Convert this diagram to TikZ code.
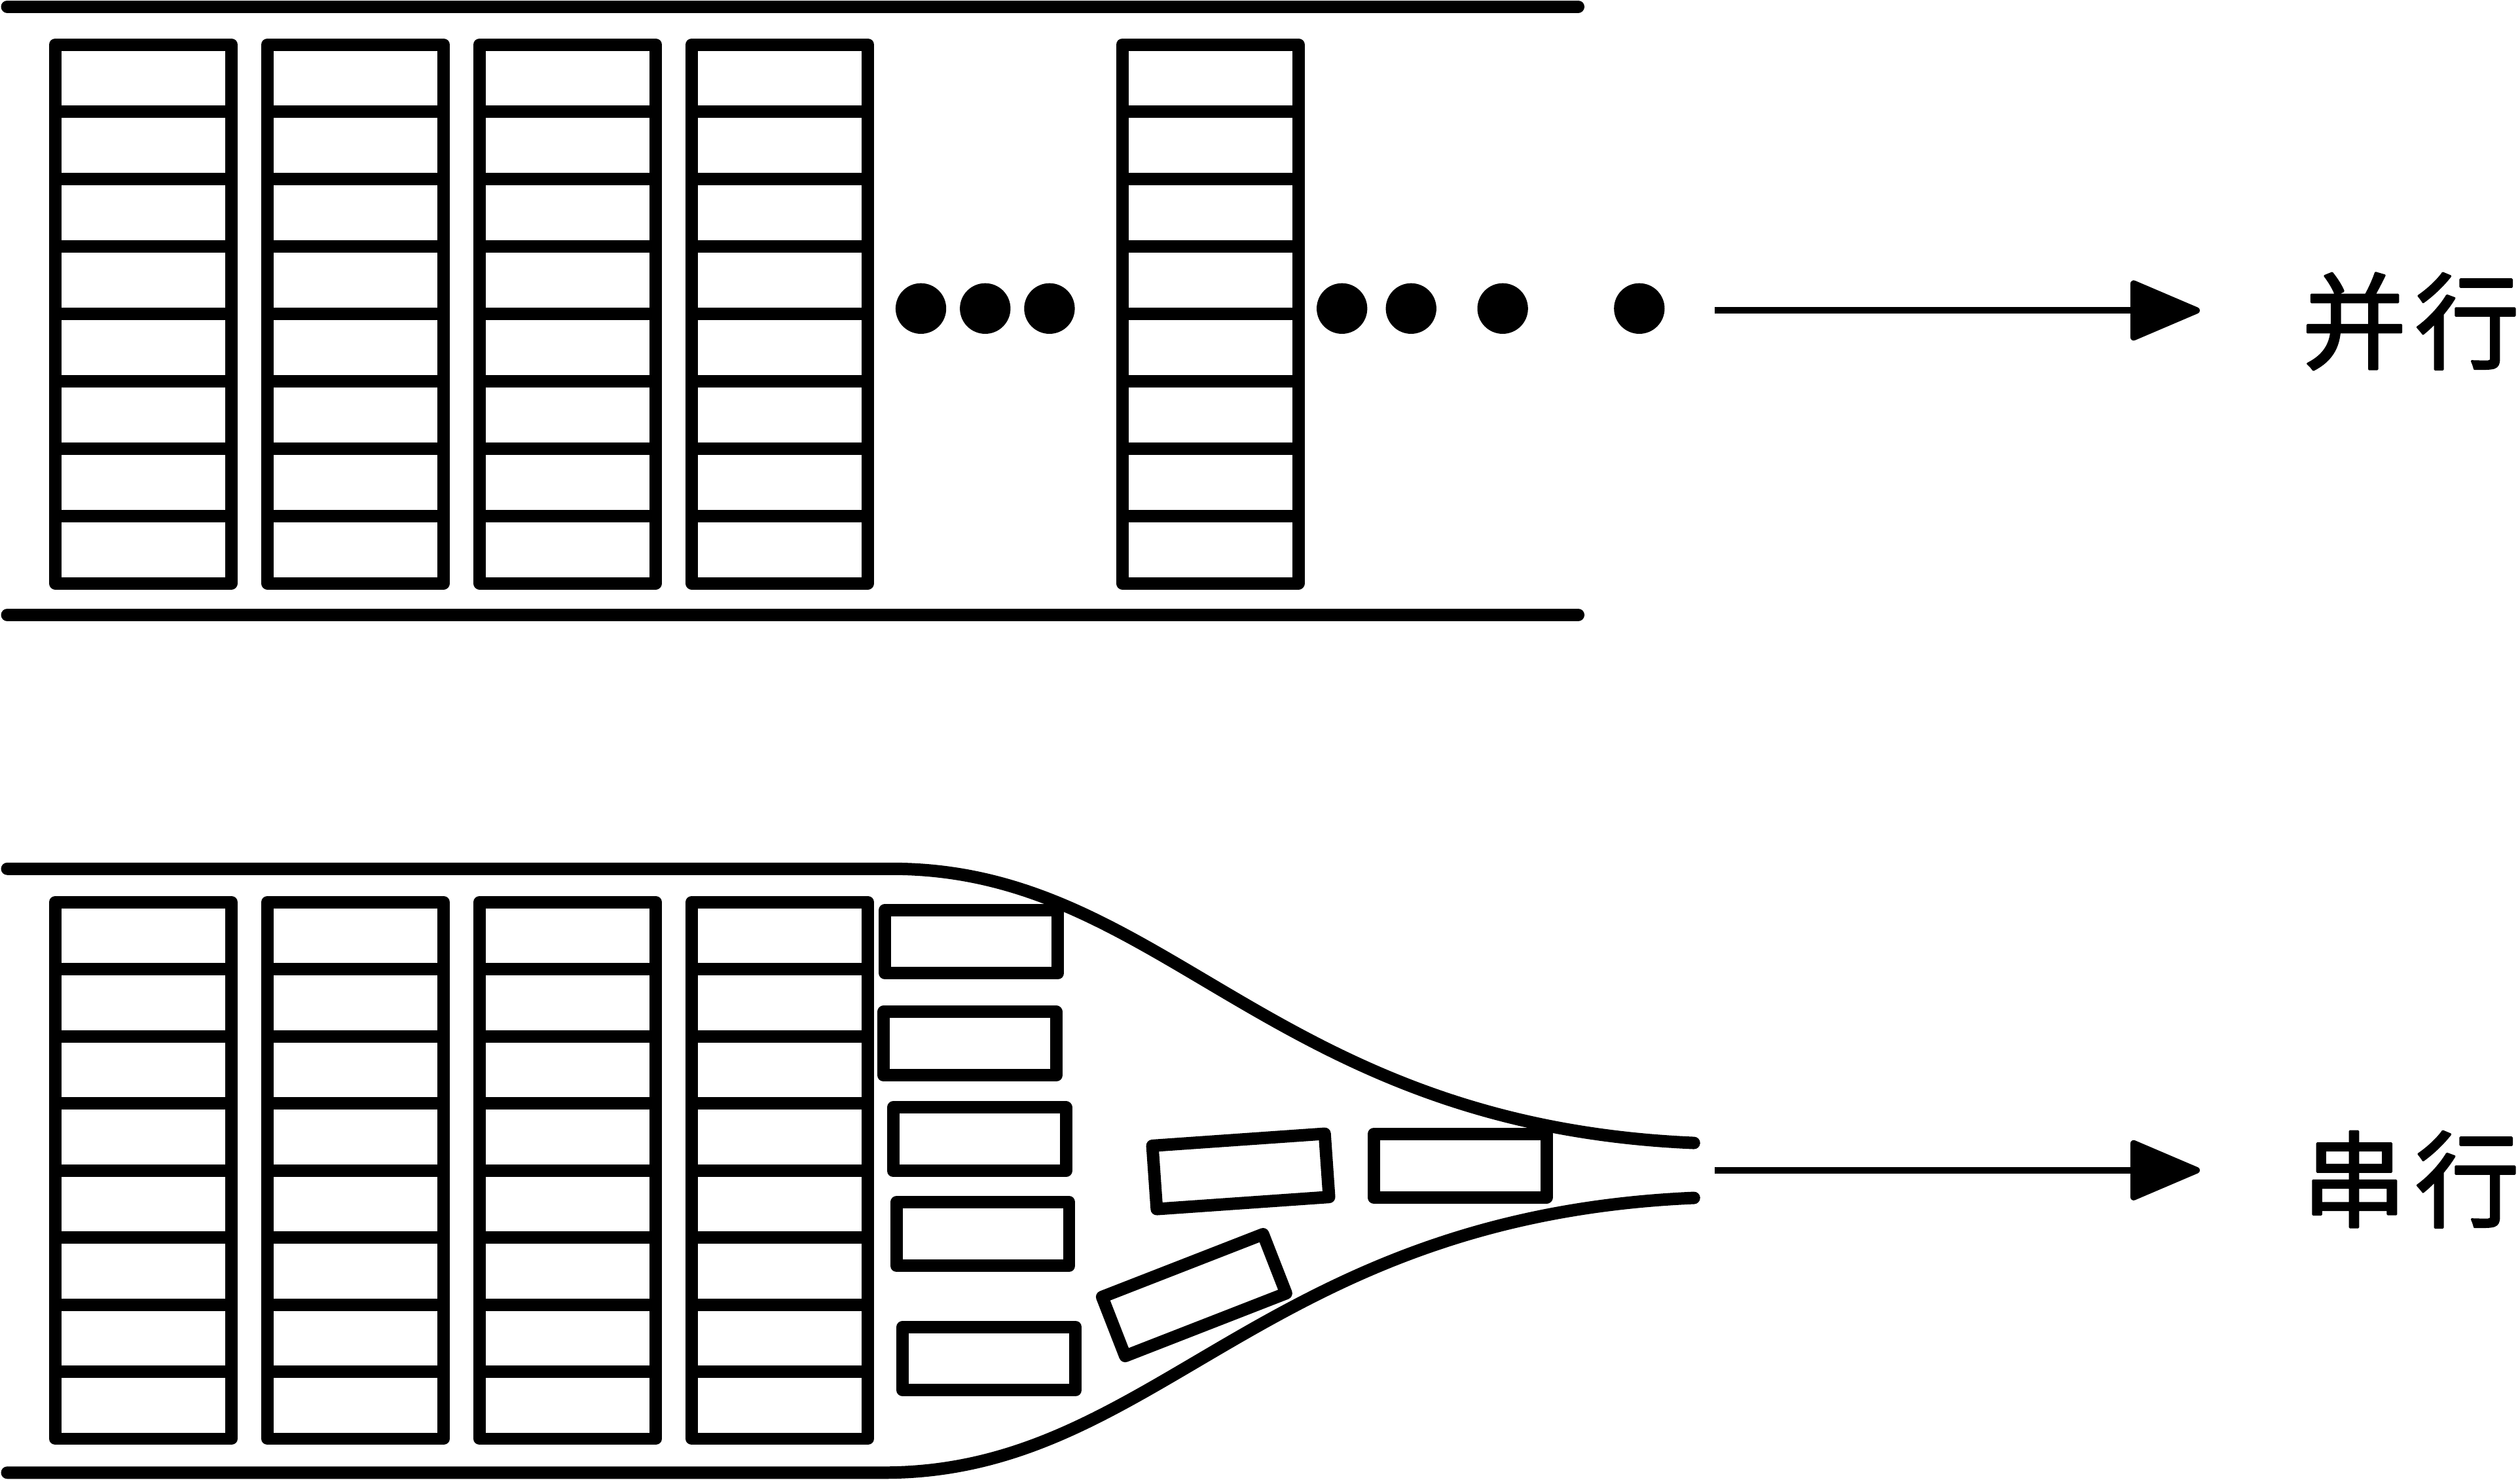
\documentclass[tikz,border=0pt]{standalone}
\usepackage{fontspec}
\newfontfamily\cjk[FakeBold=2]{Noto Sans CJK SC}
\usetikzlibrary{arrows.meta}

\begin{document}
\begin{tikzpicture}[
        x=0.02cm, y=-0.02cm,
        line join=round,
        % marcos y carriles: mismo grosor
        rack/.style={draw=black, line width=4.4pt},
        lane/.style={draw=black, line width=4.4pt, line cap=round},
        car/.style={rectangle, draw=black, line width=4.4pt,
                    minimum width=2.15cm, minimum height=0.79cm,
                    inner sep=0pt},
        bead/.style={circle, fill=black, minimum size=0.63cm, inner sep=0pt},
        flow/.style={-{Triangle[length=0.93cm, width=0.77cm, round]},
                     draw=black, line width=2.3pt},
        tag/.style={font=\cjk\fontsize{37}{40}\selectfont, inner sep=0pt}
    ]
        \useasboundingbox (0,0) rectangle (1568,920.7);

        % --- parte superior ---
        \draw[lane] (4.5,4.1) -- (982,4.1);
        \draw[lane] (4.5,382.7) -- (982,382.7);

        \foreach \x in {34.4,166.4,298.4,430.4,698.3} {
            \draw[rack] (\x,27.7) rectangle ++(109.6,335.3);
            \foreach \k in {1,...,7}
                \draw[rack] (\x,27.7+41.91*\k) -- ++(109.6,0);
        }

        \foreach \x in {573,613,653,835,878,935,1020}
            \node[bead] (b\x) at (\x,192) {};

        \coordinate (pa) at (1067,193.2);
        \coordinate (pb) at (1368.8,193.2);
        \draw[flow] (pa) -- (pb);
        \node[tag] (partag) at (1500,200) {并\hspace{0.08em}行};

        % --- parte inferior ---
        \draw[lane] (4.5,540.7) -- (555,540.7)
            .. controls (725,540.7) and (790,700) .. (1054,711.3);
        \draw[lane] (4.5,916.5) -- (550,916.5)
            .. controls (720,916.5) and (785,757.2) .. (1054,745.5);

        \foreach \x in {34.4,166.4,298.4,430.4} {
            \draw[rack] (\x,561.4) rectangle ++(109.6,334);
            \foreach \k in {1,...,7}
                \draw[rack] (\x,561.4+41.75*\k) -- ++(109.6,0);
        }

        \node[car] (car1) at (604.5,586) {};
        \node[car] (car2) at (603.5,649.5) {};
        \node[car] (car3) at (609.5,709) {};
        \node[car] (car4) at (611.5,768) {};
        \node[car] (car5) at (615.5,845.5) {};
        \node[car, rotate=21.3] (car6) at (743,806) {};
        \node[car, rotate=4] (car7) at (772,729) {};
        \node[car] (car8) at (908.5,725.5) {};

        \coordinate (sa) at (1067,728.3);
        \coordinate (sb) at (1368.8,728.3);
        \draw[flow] (sa) -- (sb);
        \node[tag] (sertag) at (1500,734) {串\hspace{0.08em}行};
    \end{tikzpicture}
\end{document}
